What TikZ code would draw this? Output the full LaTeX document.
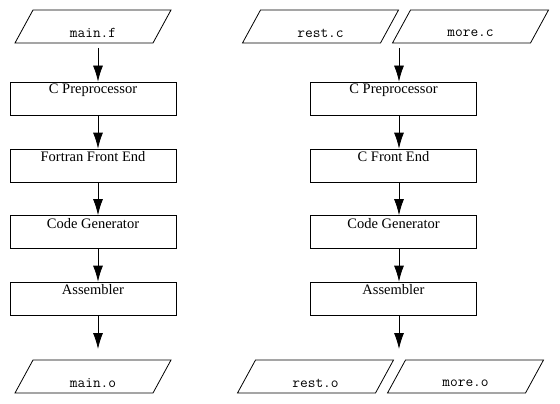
\documentclass[tikz,border=0pt]{standalone}
\usepackage{fontspec}
\setmainfont{Liberation Serif}
\usetikzlibrary{arrows.meta,calc}
\tikzset{
  boxnode/.style={draw, line width=0.8pt, minimum width=166pt, minimum height=33pt, inner sep=0pt},
  boxlabel/.style={font=\fontsize{14.5}{16}\selectfont, inner sep=0pt, anchor=center},
  plabel/.style={font=\ttfamily\fontsize{15}{17}\selectfont, inner sep=0pt, anchor=center},
  pshape/.style={draw, line width=0.8pt},
  arr/.style={line width=0.8pt, -{Latex[length=16pt,width=10pt]}}
}
\newcommand\mypara[5]{% name, cx, cy, text, unused
  \coordinate (#1) at (#2,#3);
  \draw[pshape] ($(#1)+(-78,16.5)$) -- ++(138,0) -- ++(18,-33) -- ++(-138,0) -- cycle;
  \node[plabel] (#1-t) at ($(#1)+(0,6.5)$) {#4};}
\newcommand\mybox[4]{% name, cx, cy, text
  \node[boxnode] (#1) at (#2,#3) {};
  \node[boxlabel] (#1-t) at ($(#1.center)+(0,-8.5)$) {#4};}
\begin{document}
\begin{tikzpicture}[x=1pt,y=-1pt]
\useasboundingbox (0,0) rectangle (560,404);
% left column
\mypara{mainf}{93}{26.5}{main.f}{}
\mybox{lcpp}{93}{98.5}{C Preprocessor}
\mybox{lfe}{93}{165.5}{Fortran Front End}
\mybox{lcg}{93}{232}{Code Generator}
\mybox{las}{93}{298.5}{Assembler}
\mypara{maino}{93}{376.5}{main.o}{}
% right column
\mypara{restc}{320.5}{26.5}{rest.c}{}
\mypara{morec}{470.5}{26.5}{more.c}{}
\mybox{rcpp}{393.5}{98.5}{C Preprocessor}
\mybox{rfe}{393.5}{165.5}{C Front End}
\mybox{rcg}{393.5}{232}{Code Generator}
\mybox{ras}{393.5}{298.5}{Assembler}
\mypara{resto}{315.5}{376.5}{rest.o}{}
\mypara{moreo}{465.5}{376.5}{more.o}{}
% arrows left
\coordinate (ls) at (98,48);
\coordinate (le) at (98,349);
\draw[arr] (ls) -- (lcpp.north -| ls);
\draw[arr] (lcpp.south -| ls) -- (lfe.north -| ls);
\draw[arr] (lfe.south -| ls) -- (lcg.north -| ls);
\draw[arr] (lcg.south -| ls) -- (las.north -| ls);
\draw[arr] (las.south -| ls) -- (le);
% arrows right
\coordinate (rs) at (399,48);
\coordinate (re) at (399,349);
\draw[arr] (rs) -- (rcpp.north -| rs);
\draw[arr] (rcpp.south -| rs) -- (rfe.north -| rs);
\draw[arr] (rfe.south -| rs) -- (rcg.north -| rs);
\draw[arr] (rcg.south -| rs) -- (ras.north -| rs);
\draw[arr] (ras.south -| rs) -- (re);
\end{tikzpicture}
\end{document}
